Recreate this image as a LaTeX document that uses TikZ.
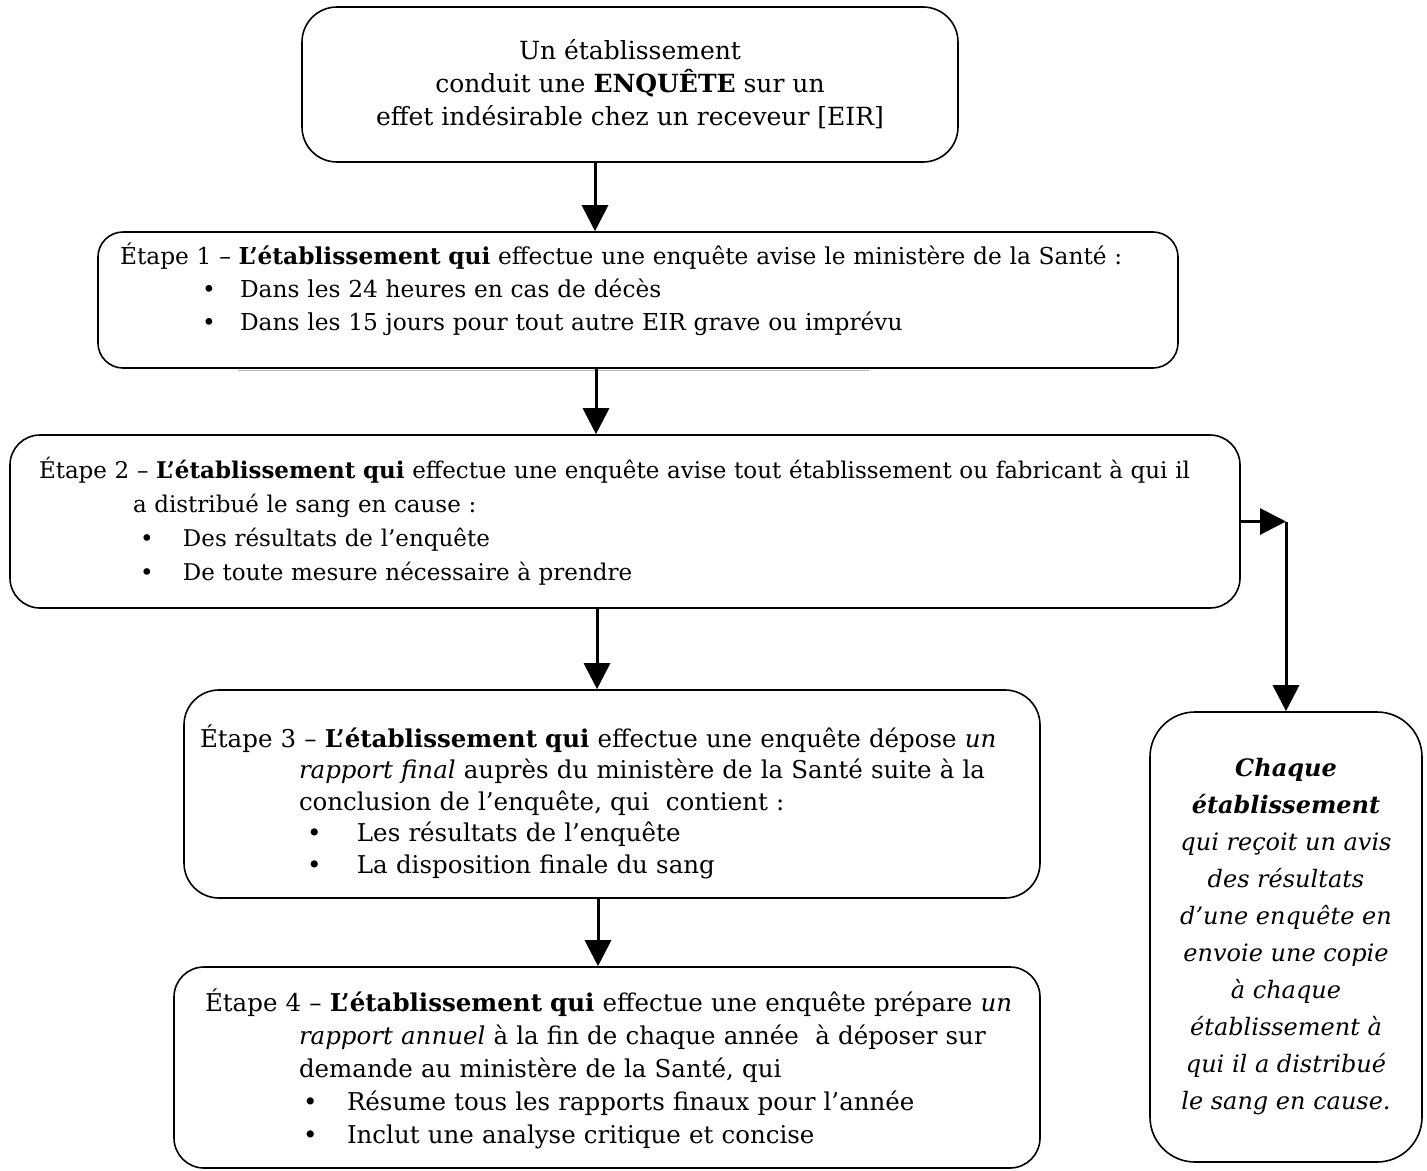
\documentclass[tikz,border=0pt]{standalone}
\usepackage{fontspec}
\setmainfont{DejaVu Serif}
\usetikzlibrary{arrows.meta}
% une puce : decalage, ecart jusqu'au texte, texte
\newcommand{\puce}[3]{\mbox{\hspace*{#1}\makebox[#2][l]{•}#3}}

\begin{document}
\begin{tikzpicture}[x=1pt, y=-1pt,
      block/.style = {
        rectangle, draw=black, line width=1.6pt, rounded corners=30pt,
        align=left, inner ysep=0pt, font=\fontsize{24.5}{33}\selectfont },
      line/.style = { draw, line width=3pt, -{Triangle[length=26pt, width=26pt]} }]
    \useasboundingbox (0,0) rectangle (1427,1170);
    \node [block, align=center, minimum width=656pt, minimum height=155pt,
      rounded corners=35pt, font=\fontsize{25}{33}\selectfont] (enquete) at (630,84.5)
      {Un établissement\\ conduit une \textbf{ENQUÊTE} sur un\\
       effet indésirable chez un receveur [EIR]};
    \node [block, text width=1036pt, inner xsep=22pt, minimum height=136pt,
      rounded corners=25pt, font=\fontsize{23.3}{33}\selectfont] (etape1) at (638,300)
      {\mbox{Étape 1 – \textbf{L’établissement qui} effectue une enquête avise le ministère de la Santé :}\\
       \puce{82pt}{38pt}{Dans les 24 heures en cas de décès}\\
       \puce{82pt}{38pt}{Dans les 15 jours pour tout autre EIR grave ou imprévu}\rule[-26pt]{0pt}{1pt}};
    \node [block, text width=1172pt, inner xsep=29pt, minimum height=173pt,
      font=\fontsize{23}{34}\selectfont] (etape2) at (625,521.5)
      {\mbox{Étape 2 – \textbf{L’établissement qui} effectue une enquête avise tout établissement ou fabricant à qui il}\\
       \mbox{\hspace*{94pt}a distribué le sang en cause :}\\
       \puce{101pt}{43pt}{Des résultats de l’enquête}\\
       \puce{101pt}{43pt}{De toute mesure nécessaire à prendre}};
    \node [block, text width=824pt, inner xsep=16pt, minimum height=208pt,
      rounded corners=35pt, font=\fontsize{24.5}{31.5}\selectfont] (etape3) at (612,794)
      {\rule{0pt}{38pt}\mbox{Étape 3 – \textbf{L’établissement qui} effectue une enquête dépose \textit{un}}\\
       \mbox{\hspace*{99pt}\textit{rapport final} auprès du ministère de la Santé suite à la}\\
       \mbox{\hspace*{99pt}conclusion de l’enquête, qui\ \ contient :}\\
       \puce{107pt}{50pt}{Les résultats de l’enquête}\\
       \puce{107pt}{50pt}{La disposition finale du sang}};
    \node [block, text width=804pt, inner xsep=31pt, minimum height=201pt] (etape4) at (607,1067.5)
      {\rule{0pt}{26pt}\mbox{Étape 4 – \textbf{L’établissement qui} effectue une enquête prépare \textit{un}}\\
       \mbox{\hspace*{94pt}\textit{rapport annuel} à la fin de chaque année\ \ à déposer sur}\\
       \mbox{\hspace*{94pt}demande au ministère de la Santé, qui}\\
       \puce{98pt}{44pt}{Résume tous les rapports finaux pour l’année}\\
       \puce{98pt}{44pt}{Inclut une analyse critique et concise}};
    \node [block, align=center, minimum width=272pt, minimum height=450pt,
      rounded corners=45pt, font=\fontsize{24}{37}\selectfont\itshape] (avis) at (1286,937)
      {\textbf{Chaque}\\ \textbf{établissement}\\ qui reçoit un avis\\ des résultats\\
       d’une enquête en\\ envoie une copie\\ à chaque\\ établissement à\\
       qui il a distribué\\ le sang en cause.};
    \draw [gray!60, line width=1.5pt] ([xshift=-400pt, yshift=-1.5pt]etape1.south)
      -- ([xshift=231pt, yshift=-1.5pt]etape1.south);
    % relier les etapes
    \coordinate (coude) at (avis.north |- etape2.east);
    \draw[line] ([xshift=-35pt]enquete.south) -- ([xshift=-35pt]enquete.south |- etape1.north);
    \draw[line] ([xshift=-42pt]etape1.south) -- ([xshift=-42pt]etape1.south |- etape2.north);
    \draw[line] ([xshift=-28pt]etape2.south) -- ([xshift=-28pt]etape2.south |- etape3.north);
    \draw[line] ([xshift=-14pt]etape3.south) -- ([xshift=-14pt]etape3.south |- etape4.north);
    \draw[line] (etape2.east) -- (coude);
    \draw[line] (coude) -- (avis.north);
  \end{tikzpicture}
\end{document}
